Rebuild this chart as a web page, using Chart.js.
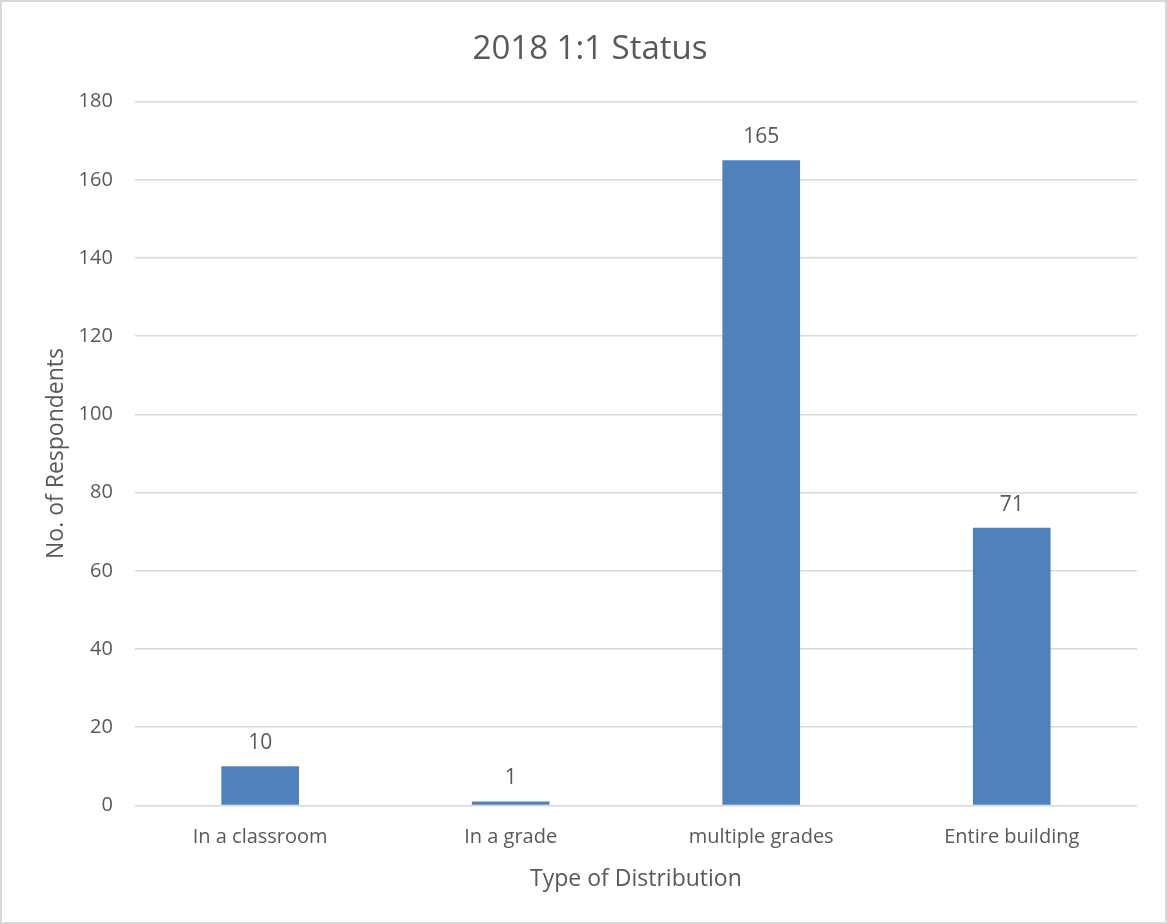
<!DOCTYPE html>
<html lang="en">
<head>
    <meta charset="UTF-8">
    <title>2018 1:1 Status</title>
    <style>
        body {
            margin: 0;
            background: #ffffff;
        }

        .chart-box {
            position: relative;
            width: 1167px;
            height: 924px;
            box-sizing: border-box;
            border: 2px solid #d9d9d9;
            background: #ffffff;
        }
    </style>
</head>
<body>
    <div class="chart-box">
        <canvas id="statusChart"></canvas>
    </div>

    <script src="https://cdn.jsdelivr.net/npm/chart.js"></script>
    <script>
        const categories = ['In a classroom', 'In a grade', 'multiple grades', 'Entire building'];
        const respondents = [10, 1, 165, 71];
        const yTicks = [0, 20, 40, 60, 80, 100, 120, 140, 160, 180];

        const textColor = '#595959';
        const fontFamily = "'Open Sans', sans-serif";

        // value labels drawn above each bar
        const barLabels = {
            id: 'barLabels',
            afterDatasetsDraw(chart) {
                const ctx = chart.ctx;
                const meta = chart.getDatasetMeta(0);
                ctx.save();
                ctx.font = '21px ' + fontFamily;
                ctx.fillStyle = textColor;
                ctx.textAlign = 'center';
                ctx.textBaseline = 'alphabetic';
                meta.data.forEach((bar, i) => {
                    ctx.fillText(respondents[i], bar.x, bar.y - 17);
                });
                ctx.restore();
            }
        };

        const ctx = document.getElementById('statusChart').getContext('2d');
        new Chart(ctx, {
            type: 'bar',
            data: {
                labels: categories,
                datasets: [{
                    label: 'No. of Respondents',
                    data: respondents,
                    backgroundColor: '#4f81bd',
                    categoryPercentage: 1,
                    barPercentage: 0.31
                }]
            },
            options: {
                responsive: true,
                maintainAspectRatio: false,
                animation: false,
                layout: {
                    padding: { top: 10, left: 41, right: 28, bottom: 29 }
                },
                plugins: {
                    legend: { display: false },
                    tooltip: { enabled: false },
                    title: {
                        display: true,
                        text: '2018 1:1 Status',
                        color: textColor,
                        font: { family: fontFamily, size: 33, weight: 'normal' },
                        padding: { top: 18, bottom: 32 }
                    }
                },
                scales: {
                    x: {
                        grid: { display: false, drawTicks: false },
                        border: { display: false },
                        ticks: {
                            color: textColor,
                            font: { family: fontFamily, size: 20 },
                            padding: 20
                        },
                        title: {
                            display: true,
                            text: 'Type of Distribution',
                            color: textColor,
                            font: { family: fontFamily, size: 23 },
                            padding: { top: -4, bottom: 0 }
                        }
                    },
                    y: {
                        min: 0,
                        max: 180,
                        afterBuildTicks(axis) {
                            axis.ticks = yTicks.map(v => ({ value: v }));
                        },
                        grid: {
                            color: '#d9d9d9',
                            lineWidth: 1.5,
                            drawTicks: false
                        },
                        border: { display: false },
                        ticks: {
                            color: textColor,
                            font: { family: fontFamily, size: 20 },
                            padding: 22
                        },
                        title: {
                            display: true,
                            text: 'No. of Respondents',
                            color: textColor,
                            font: { family: fontFamily, size: 23 },
                            padding: { top: 0, bottom: -14 }
                        }
                    }
                }
            },
            plugins: [barLabels]
        });
    </script>
</body>
</html>
